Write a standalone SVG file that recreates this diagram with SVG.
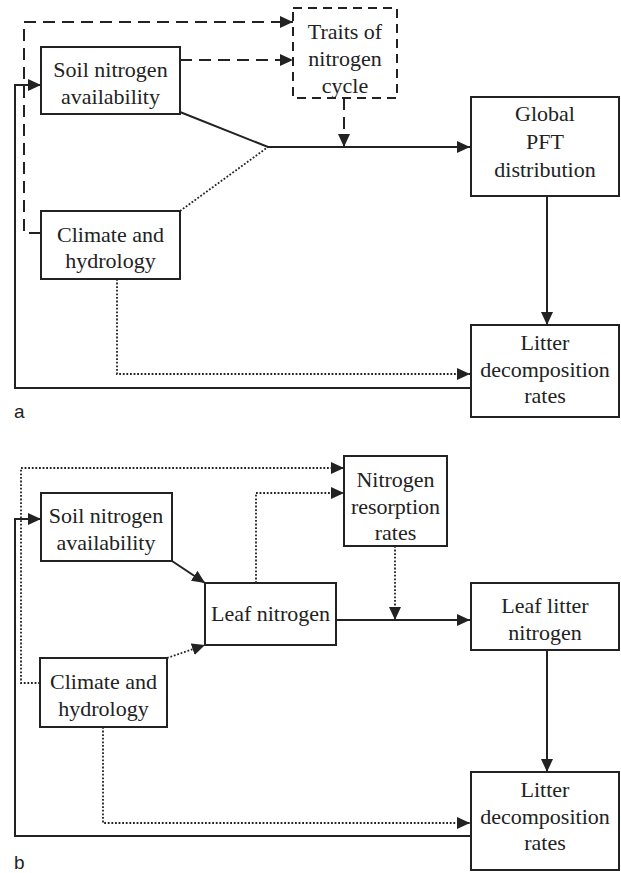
<svg xmlns="http://www.w3.org/2000/svg" width="621" height="873" viewBox="0 0 621 873">
<style>
.box{fill:#fff;stroke:#222;stroke-width:2}
.dbox{fill:#fff;stroke:#222;stroke-width:2;stroke-dasharray:9,6}
.t{font-family:'Liberation Serif','Times New Roman',serif;font-size:22px;fill:#222;text-anchor:middle}
.lbl{font-family:'Liberation Sans',Arial,sans-serif;font-size:19px;fill:#222}
.solid{fill:none;stroke:#222;stroke-width:2}
.dash{fill:none;stroke:#222;stroke-width:2;stroke-dasharray:12,7}
.dot{fill:none;stroke:#222;stroke-width:1.8;stroke-dasharray:1.8,1.8}
</style>
<defs>
<marker id="ah" markerUnits="userSpaceOnUse" markerWidth="13" markerHeight="12" refX="13" refY="6" orient="auto">
<path d="M0,0 L13,6 L0,12 z" fill="#222"/>
</marker>
</defs>
<rect width="621" height="873" fill="#fff"/>
<g id="connectors">
<path class="dash" d="M41,233 H24 V22 H293" marker-end="url(#ah)"/>
<path class="dash" d="M180,60 H293" marker-end="url(#ah)"/>
<path class="solid" d="M180,112 L268,147 H470" marker-end="url(#ah)"/>
<path class="dot" d="M180,211 L268,147"/>
<path class="dash" d="M344,98 V147" marker-end="url(#ah)"/>
<path class="solid" d="M547,196 V325" marker-end="url(#ah)"/>
<path class="dot" d="M117,279 V374 H470" marker-end="url(#ah)"/>
<path class="solid" d="M470,388 H15 V85 H41" marker-end="url(#ah)"/>
<path class="dot" d="M40,683 H21 V468 H344" marker-end="url(#ah)"/>
<path class="solid" d="M172,561 L205,583" marker-end="url(#ah)"/>
<path class="dot" d="M167,658 L205,645" marker-end="url(#ah)"/>
<path class="dot" d="M256,583 V493 H344" marker-end="url(#ah)"/>
<path class="dot" d="M395,546 V620" marker-end="url(#ah)"/>
<path class="solid" d="M336,620 H470" marker-end="url(#ah)"/>
<path class="solid" d="M547,650 V772" marker-end="url(#ah)"/>
<path class="dot" d="M103,727 V823 H470" marker-end="url(#ah)"/>
<path class="solid" d="M470,836 H15 V519 H41" marker-end="url(#ah)"/>
</g>
<g id="a-soil"><rect class="box" x="41" y="47" width="139" height="67"/><text class="t" x="110.5" y="77">Soil nitrogen</text><text class="t" x="110.5" y="104">availability</text></g>
<g id="a-traits"><rect class="dbox" x="293" y="8" width="104" height="90"/><text class="t" x="345" y="39">Traits of</text><text class="t" x="345" y="66">nitrogen</text><text class="t" x="345" y="93">cycle</text></g>
<g id="a-climate"><rect class="box" x="41" y="211" width="139" height="68"/><text class="t" x="110.5" y="242">Climate and</text><text class="t" x="110.5" y="268">hydrology</text></g>
<g id="a-global"><rect class="box" x="471" y="97" width="148" height="99"/><text class="t" x="545" y="121">Global</text><text class="t" x="545" y="149">PFT</text><text class="t" x="545" y="177">distribution</text></g>
<g id="a-litter"><rect class="box" x="471" y="325" width="148" height="92"/><text class="t" x="545" y="350">Litter</text><text class="t" x="545" y="377">decomposition</text><text class="t" x="545" y="403">rates</text></g>
<text class="lbl" x="14" y="418">a</text>
<g id="b-soil"><rect class="box" x="41" y="493" width="131" height="68"/><text class="t" x="106" y="523">Soil nitrogen</text><text class="t" x="106" y="550">availability</text></g>
<g id="b-resorption"><rect class="box" x="344" y="456" width="103" height="90"/><text class="t" x="395.5" y="487">Nitrogen</text><text class="t" x="395.5" y="514">resorption</text><text class="t" x="395.5" y="540">rates</text></g>
<g id="b-leaf"><rect class="box" x="205" y="583" width="131" height="62"/><text class="t" x="270.5" y="621">Leaf nitrogen</text></g>
<g id="b-leaflitter"><rect class="box" x="471" y="583" width="148" height="67"/><text class="t" x="545" y="613">Leaf litter</text><text class="t" x="545" y="640">nitrogen</text></g>
<g id="b-climate"><rect class="box" x="40" y="658" width="127" height="69"/><text class="t" x="103.5" y="689">Climate and</text><text class="t" x="103.5" y="716">hydrology</text></g>
<g id="b-litter"><rect class="box" x="471" y="772" width="148" height="98"/><text class="t" x="545" y="797">Litter</text><text class="t" x="545" y="824">decomposition</text><text class="t" x="545" y="850">rates</text></g>
<text class="lbl" x="14" y="869">b</text>
</svg>
